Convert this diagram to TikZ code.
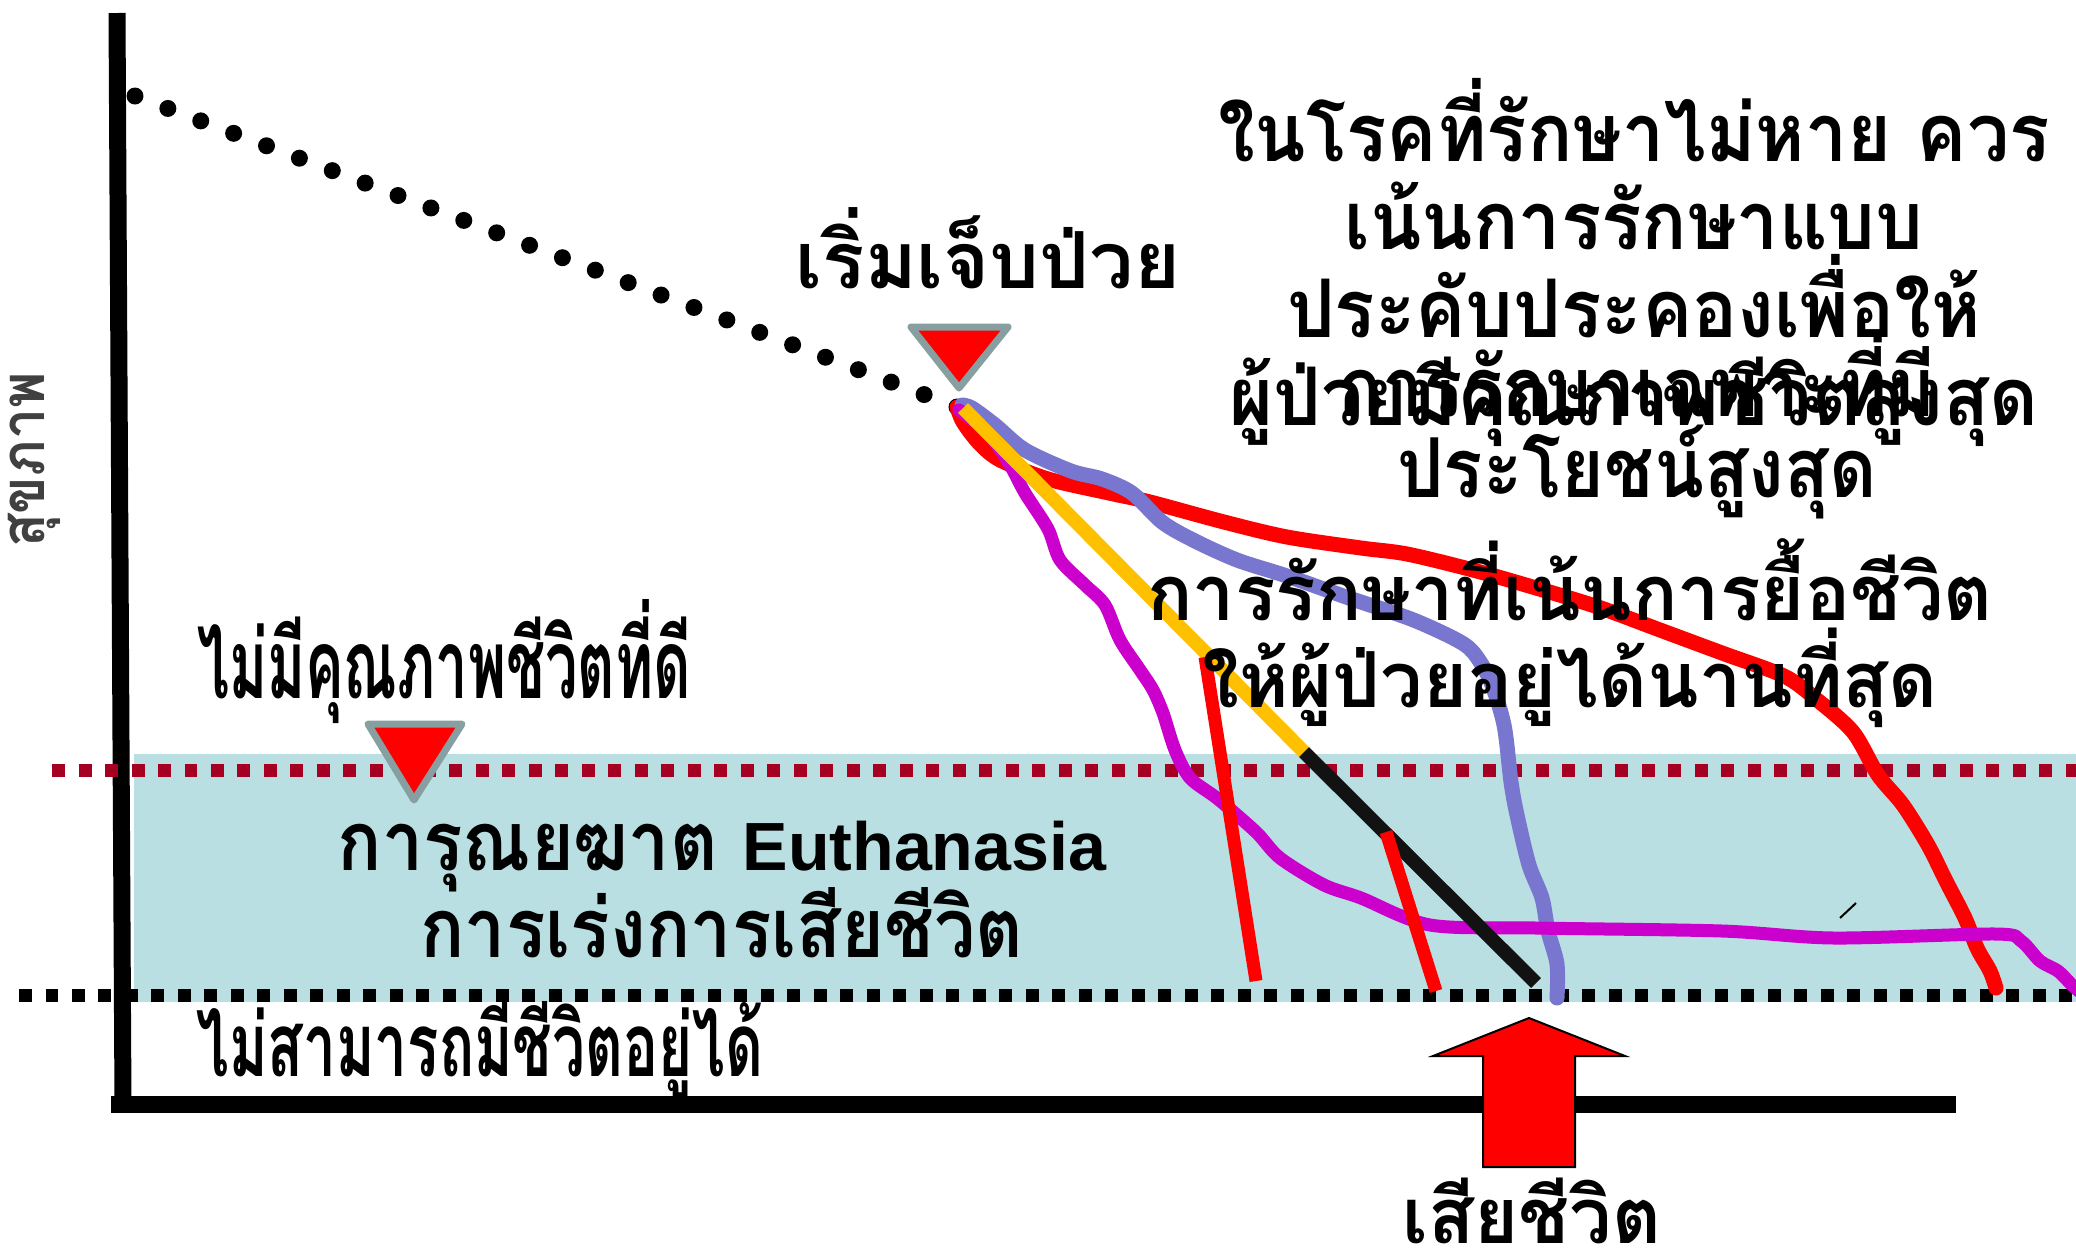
\documentclass[tikz,border=0pt]{standalone}
\usepackage{fontspec}
\usepackage{xcolor}
\usepackage{tikz}
\newfontfamily\thaifont[Script=Thai]{Loma}
\newfontfamily\arialfont{Liberation Sans}
\setlength{\lineskiplimit}{-100pt}

\definecolor{bandblue}{RGB}{185,223,226}
\definecolor{markgray}{RGB}{135,159,160}
\definecolor{qolred}{RGB}{165,0,33}
\definecolor{lavender}{RGB}{120,118,206}
\definecolor{violetline}{RGB}{204,0,204}
\definecolor{amber}{RGB}{255,192,0}
\definecolor{axisgray}{RGB}{64,64,64}

\begin{document}
\begin{tikzpicture}[
   x = 0.1mm, y = -0.1mm,
   label/.style = {inner sep=0pt, align=center, anchor=base},
   course/.style = {line width=1.5mm, line cap=round, line join=round},
   limit/.style = {line width=1.3mm, dash pattern=on 1.3mm off 1.35mm},
   marker/.style = {fill=red, draw=markgray, line width=0.7mm, line join=round}
   ]
  \useasboundingbox (0,0) rectangle (2076,1251);

  % zone between the two limits
  \fill[bandblue] (134,754) rectangle (2076,1002);

  % axes
  \draw[line width=1.7mm] (117,13) -- (123,1104);
  \draw[line width=1.7mm] (111,1104) -- (1956,1104);
  \node[label, text=axisgray, rotate=90,
   font=\thaifont\bfseries\addfontfeatures{FakeStretch=0.9}\fontsize{17.5}{18}\selectfont] (health) at (45,460) {สุขภาพ};

  % healthy years before illness
  \foreach \i in {0,...,25}
    \fill ({135+\i*32.88},{96+\i*12.44}) circle (0.85mm);
  \coordinate (onset) at (960,408);

  % limits
  \draw[limit, qolred] (52,770) -- (2076,770);
  \draw[limit, black] (19,995) -- (2076,995);

  % courses of illness
  \draw[course, red] plot[smooth, tension=0.5] coordinates {(957,407) (963,422) (979,443) (1000,460) (1048,479) (1109,493) (1150,502) (1224,522) (1287,537) (1361,548) (1407,554) (1473,570) (1536,588) (1598,607) (1660,630) (1722,653) (1784,676) (1816,699) (1853,732) (1878,775) (1903,805) (1928,845) (1946,881) (1965,918) (1977,948) (1990,971) (1996,988)};
  \draw[course, lavender] plot[smooth, tension=0.5] coordinates {(962,405) (972,408) (995,425) (1025,450) (1071,471) (1102,479) (1132,493) (1162,522) (1193,540) (1237,560) (1287,576) (1349,598) (1411,619) (1455,639) (1473,652) (1490,680) (1504,725) (1511,782) (1517,815) (1529,865) (1542,898) (1548,931) (1557,964) (1557,998)};
  \draw[course, violetline, line width=1.3mm] plot[smooth, tension=0.5] coordinates {(959,410) (987,432) (1010,465) (1025,493) (1048,529) (1060,560) (1085,585) (1105,605) (1120,640) (1140,670) (1153,690) (1163,713) (1175,750) (1190,778) (1218,799) (1256,832) (1280,858) (1324,885) (1361,898) (1430,925) (1536,928) (1722,931) (1834,938) (1996,934) (2021,941) (2040,961) (2058,971) (2071,984) (2080,992)};
  \draw[course, amber, line width=1.4mm, line cap=butt] (963,408) -- (1304,752);
  \draw[course, black!93, line width=1.4mm, line cap=butt] (1304,752) -- (1536,983);
  \draw[course, red, line width=1.3mm, line cap=butt] (1205,657) -- (1256,981);
  \draw[course, red, line width=1.3mm, line cap=butt] (1386,832) -- (1436,991);
  \draw[line width=0.2mm] (1840,918) -- (1856,903);

  % markers
  \filldraw[marker] (911,327) -- (1008,327) -- (959,388) -- cycle;
  \filldraw[marker] (368,724) -- (462,724) -- (414,800) -- cycle;
  \filldraw[fill=red, draw=black, line width=0.2mm] (1529,1018) -- (1625,1056) -- (1575,1056) -- (1575,1167) -- (1483,1167) -- (1483,1056) -- (1433,1056) -- cycle;

  % labels
  \node[label, font=\thaifont\bfseries\fontsize{22.4}{24}\selectfont] (onsetlabel) at (988,288) {เริ่มเจ็บป่วย};
  \node[label, font=\thaifont\bfseries\addfontfeatures{FakeStretch=0.6}\fontsize{27.4}{28}\selectfont] (poorqol) at (444,698) {ไม่มีคุณภาพชีวิตที่ดี};
  \node[label, font=\thaifont\bfseries\addfontfeatures{FakeStretch=0.66}\fontsize{25.2}{26}\selectfont] (nolife) at (480,1076) {ไม่สามารถมีชีวิตอยู่ได้};
  \node[label, font=\thaifont\bfseries\addfontfeatures{FakeStretch=0.89}\fontsize{23.5}{24.75}\selectfont] (euthanasia) at (722,957)
   {การุณยฆาต {\arialfont\bfseries\fontsize{19.4}{20}\selectfont Euthanasia}\\
   การเร่งการเสียชีวิต};
  \node[label, font=\thaifont\bfseries\addfontfeatures{FakeStretch=0.975}\fontsize{22}{24}\selectfont] (death) at (1532,1243) {เสียชีวิต};
  \node[label, font=\thaifont\bfseries\addfontfeatures{FakeStretch=0.93}\fontsize{23}{25}\selectfont] (palliative) at (1634,425)
   {ในโรคที่รักษาไม่หาย ควร\\
   เน้นการรักษาแบบ\\
   ประคับประคองเพื่อให้\\
   ผู้ป่วยมีคุณภาพชีวิตสูงสุด};
  \node[label, font=\thaifont\bfseries\addfontfeatures{FakeStretch=0.885}\fontsize{23.5}{22.8}\selectfont] (specific) at (1637,497)
   {การรักษาเฉพาะที่มี\\
   ประโยชน์สูงสุด};
  \node[label, font=\thaifont\bfseries\addfontfeatures{FakeStretch=0.975}\fontsize{22}{24.75}\selectfont] (prolong) at (1570,707)
   {การรักษาที่เน้นการยื้อชีวิต\\
   ให้ผู้ป่วยอยู่ได้นานที่สุด};
\end{tikzpicture}
\end{document}
